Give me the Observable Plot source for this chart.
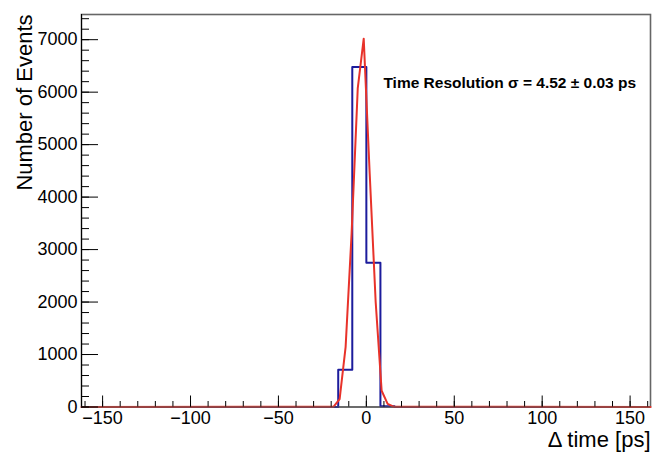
<!DOCTYPE html>
<html>
<head>
<meta charset="utf-8">
<script src="https://cdn.jsdelivr.net/npm/d3@7"></script>
<script src="https://cdn.jsdelivr.net/npm/@observablehq/plot@0.6"></script>
<style>
  html, body { margin: 0; padding: 0; background: #fff; }
  svg { display: block; }
</style>
</head>
<body>
<div id="chart"></div>
<script>
// ---- data ----
const xDomain = [-162, 161.6];
const yDomain = [0, 7480];
const binLow = -160;           // first bin edge
const binWidth = 8;            // ps
const histCounts = [
  0,0,0,0,0,0,0,0,0,0,
  0,0,0,0,0,0,0,0,710,6480,
  2750,15,0,0,0,0,0,0,0,0,
  0,0,0,0,0,0,0,0,0,0
];
const fitX = [-162, -18.6, -15.2, -11.8, -8.4, -4.9, -1.5, 1.9, 5.3, 8.7, 12.1, 15.5, 161.6];
const fitY = [0, 5, 150, 1140, 3300, 6070, 7020, 4450, 2000, 310, 60, 5, 0];
const xMajorTicks = [-150, -100, -50, 0, 50, 100, 150];
const xMinorTicks = d3.range(-160, 161, 10);
const yMajorTicks = [0, 1000, 2000, 3000, 4000, 5000, 6000, 7000];
const yMinorTicks = d3.range(0, 7401, 200);
const xLabel = "\u0394 time [ps]";
const yLabel = "Number of Events";
const note = "Time Resolution \u03c3 = 4.52 \u00b1 0.03 ps";
const notePos = {x: 9.7, y: 6170};

// ---- derived tables ----
const histStep = histCounts.map((c, i) => ({x: binLow + i * binWidth, y: c}));
histStep.push({x: binLow + histCounts.length * binWidth, y: histCounts[histCounts.length - 1]});
const fit = fitX.map((x, i) => ({x, y: fitY[i]}));

const font = "'Liberation Sans', Arial, Helvetica, sans-serif";

const plot = Plot.plot({
  width: 653,
  height: 454,
  marginLeft: 81,
  marginRight: 3,
  marginTop: 14,
  marginBottom: 47.5,
  style: {fontFamily: font, fontSize: "18px", color: "#000", background: "#fff"},
  x: {domain: xDomain, label: null},
  y: {domain: yDomain, label: null},
  marks: [
    Plot.frame({stroke: "#666", strokeWidth: 1.6}),
    // histogram outline
    Plot.line(histStep, {x: "x", y: "y", curve: "step-after", stroke: "#1c1c9c", strokeWidth: 2}),
    // gaussian fit
    Plot.line(fit, {x: "x", y: "y", stroke: "#e8322a", strokeWidth: 2}),
    // axes lines
    Plot.ruleX([xDomain[0]], {stroke: "#000", strokeWidth: 1}),
    Plot.ruleY([0], {stroke: "#555", strokeWidth: 1}),
    // x axis: inward ticks, then labels
    Plot.axisX({ticks: xMinorTicks, tickSize: -5.5, tickFormat: () => "", stroke: "#000", label: null}),
    Plot.axisX({ticks: xMajorTicks, tickSize: -11, tickFormat: () => "", stroke: "#000", label: null}),
    Plot.axisX({ticks: xMajorTicks, tickSize: 0, tickPadding: 4, tickFormat: d3.format("d"),
      fontSize: 18, label: null}),
    // y axis
    Plot.axisY({ticks: yMinorTicks, tickSize: -8, tickFormat: () => "", stroke: "#000", label: null}),
    Plot.axisY({ticks: yMajorTicks, tickSize: -17, tickFormat: () => "", stroke: "#000", label: null}),
    Plot.axisY({ticks: yMajorTicks, tickSize: 0, tickPadding: 4, tickFormat: d3.format("d"),
      fontSize: 18, label: null}),
    // axis titles
    Plot.text([yLabel], {frameAnchor: "top-left", rotate: -90, textAnchor: "end",
      dx: -65, dy: 0, fontSize: 22, fill: "#000"}),
    Plot.text([xLabel], {frameAnchor: "bottom-right", textAnchor: "end",
      dx: 0, dy: 40, fontSize: 22, fill: "#000"}),
    // annotation
    Plot.text([note], {x: () => notePos.x, y: () => notePos.y, textAnchor: "start",
      fontSize: 15.5, fontWeight: "bold", fill: "#000"})
  ]
});
document.getElementById("chart").appendChild(plot);
</script>
</body>
</html>
